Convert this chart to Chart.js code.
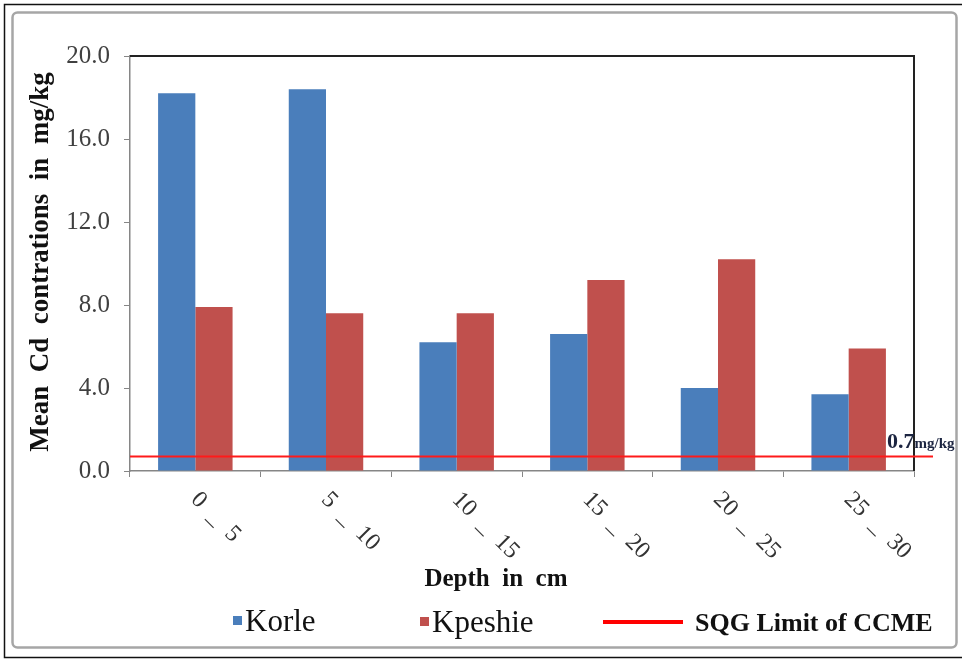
<!DOCTYPE html>
<html>
<head>
<meta charset="utf-8">
<script src="https://cdn.jsdelivr.net/npm/chart.js@4/dist/chart.umd.min.js"></script>
<style>
  html, body { margin: 0; padding: 0; background: #fff; }
  #wrap { width: 962px; height: 661px; }
</style>
</head>
<body>
<div id="wrap"><canvas id="c" width="962" height="661"></canvas></div>
<script>
// Mean Cd concentration (mg/kg) by sediment depth for the two lagoons
const depthRanges = ['0  _  5', '5  _  10', '10  _  15', '15  _  20', '20  _  25', '25  _  30'];
const korle = [18.2, 18.4, 6.2, 6.6, 4.0, 3.7];
const kpeshie = [7.9, 7.6, 7.6, 9.2, 10.2, 5.9];
const sqgLimit = 0.7;               // CCME sediment quality guideline
const yTicks = [0, 4, 8, 12, 16, 20];

const SERIF = '"Liberation Serif"';
Chart.defaults.font.family = SERIF;

const decor = {
  id: 'decor',
  beforeDraw(chart) {
    const ctx = chart.ctx;
    ctx.save();
    ctx.fillStyle = '#fff';
    ctx.fillRect(0, 0, chart.width, chart.height);
    // outer frame
    ctx.strokeStyle = '#111';
    ctx.lineWidth = 1.5;
    ctx.strokeRect(4.5, 4.5, 960, 653);
    // inner chart border
    ctx.strokeStyle = '#a6a6a6';
    ctx.lineWidth = 2.5;
    ctx.beginPath();
    ctx.roundRect(12.5, 12.5, 944, 635, 5);
    ctx.stroke();
    ctx.restore();
  },
  afterDatasetsDraw(chart) {
    const { ctx, chartArea: a, scales: { x, y } } = chart;
    ctx.save();

    // plot-area border (top and right)
    ctx.strokeStyle = '#222';
    ctx.lineWidth = 2;
    ctx.beginPath();
    ctx.moveTo(a.left, a.top);
    ctx.lineTo(a.right, a.top);
    ctx.lineTo(a.right, a.bottom);
    ctx.stroke();

    // guideline limit
    const yl = y.getPixelForValue(sqgLimit);
    ctx.strokeStyle = '#ff1a1a';
    ctx.lineWidth = 2;
    ctx.beginPath();
    ctx.moveTo(a.left, yl);
    ctx.lineTo(a.right + 19, yl);
    ctx.stroke();

    ctx.fillStyle = '#1c2541';
    ctx.textAlign = 'left';
    ctx.textBaseline = 'alphabetic';
    ctx.font = 'bold 22px ' + SERIF;
    const valTxt = sqgLimit.toFixed(1);
    const lx = a.right - 27;
    ctx.fillText(valTxt, lx, yl - 8);
    const vw = ctx.measureText(valTxt).width;
    ctx.font = 'bold 15px ' + SERIF;
    ctx.fillText('mg/kg', lx + vw, yl - 8);

    // rotated category labels
    ctx.font = '24px ' + SERIF;
    ctx.fillStyle = '#333';
    depthRanges.forEach((lab, i) => {
      const px = x.getPixelForValue(i);
      ctx.save();
      ctx.translate(px - 1, a.bottom + 25);
      ctx.rotate(Math.PI / 4);
      ctx.textAlign = 'left';
      ctx.textBaseline = 'middle';
      ctx.fillText(lab, 0, 0);
      ctx.restore();
    });

    // axis titles
    ctx.fillStyle = '#111';
    ctx.font = 'bold 27px ' + SERIF;
    ctx.save();
    ctx.translate(41, 262);
    ctx.rotate(-Math.PI / 2);
    ctx.textAlign = 'center';
    ctx.textBaseline = 'middle';
    ctx.fillText('Mean  Cd  contrations  in  mg/kg', 0, 0);
    ctx.restore();

    ctx.font = 'bold 25px ' + SERIF;
    ctx.textAlign = 'center';
    ctx.textBaseline = 'middle';
    ctx.fillText('Depth  in  cm', 496, 580);

    // legend
    const ds = chart.data.datasets;
    ctx.textAlign = 'left';
    ctx.textBaseline = 'alphabetic';
    ctx.fillStyle = ds[0].backgroundColor;
    ctx.fillRect(233, 616, 9, 9);
    ctx.fillStyle = ds[1].backgroundColor;
    ctx.fillRect(420, 617, 9, 9);
    ctx.fillStyle = '#111';
    ctx.font = '31px ' + SERIF;
    ctx.fillText(ds[0].label, 245, 631);
    ctx.fillText(ds[1].label, 432, 632);

    ctx.strokeStyle = '#ff0000';
    ctx.lineWidth = 4;
    ctx.beginPath();
    ctx.moveTo(603, 622);
    ctx.lineTo(683, 622);
    ctx.stroke();
    ctx.font = 'bold 26px ' + SERIF;
    ctx.fillText('SQG Limit of CCME', 695, 631);

    ctx.restore();
  }
};

new Chart(document.getElementById('c'), {
  type: 'bar',
  data: {
    labels: depthRanges,
    datasets: [
      { label: 'Korle', data: korle, backgroundColor: '#4a7ebb',
        categoryPercentage: 0.57, barPercentage: 1.0 },
      { label: 'Kpeshie', data: kpeshie, backgroundColor: '#c0504d',
        categoryPercentage: 0.57, barPercentage: 1.0 }
    ]
  },
  options: {
    responsive: false,
    animation: false,
    layout: { padding: { left: 0, top: 56, right: 48, bottom: 180 } },
    plugins: { legend: { display: false }, tooltip: { enabled: false } },
    scales: {
      x: {
        type: 'category',
        offset: true,
        grid: { drawOnChartArea: false, drawTicks: true, tickLength: 6, color: '#868686', offset: true },
        border: { color: '#868686', width: 1.5 },
        ticks: { display: false },
        afterFit: s => { s.height = 10; }
      },
      y: {
        min: 0,
        max: 20,
        afterBuildTicks: s => { s.ticks = yTicks.map(v => ({ value: v })); },
        ticks: {
          callback: v => Number(v).toFixed(1),
          font: { size: 25 },
          color: '#404040',
          padding: 14
        },
        grid: { drawOnChartArea: false, tickLength: 6, color: '#868686' },
        border: { color: '#868686', width: 1.5 },
        afterFit: s => { s.width = 130; }
      }
    }
  },
  plugins: [decor]
});
</script>
</body>
</html>
